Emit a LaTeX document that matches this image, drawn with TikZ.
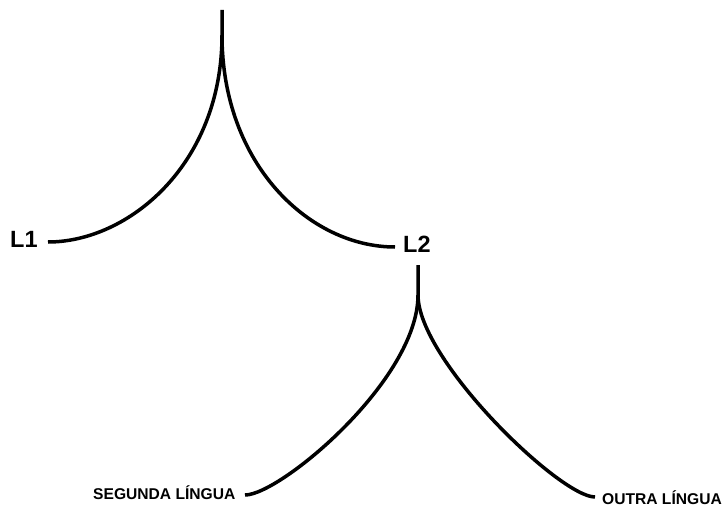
\documentclass[tikz,border=0pt]{standalone}
\usepackage{fontspec}
\setmainfont{Liberation Sans}
\begin{document}
\begin{tikzpicture}[x=1pt,y=-1pt,
  bigtxt/.style={anchor=base west,inner sep=0pt,font=\bfseries\fontsize{23.5}{28}\selectfont},
  smalltxt/.style={anchor=base west,inner sep=0pt,font=\bfseries\fontsize{15.6}{18}\selectfont},
  branch/.style={line width=3.5pt,line join=round}]
\useasboundingbox (0,0) rectangle (727,508);
% labels
\node[bigtxt] (L1) at (10,247) {L1};
\node[bigtxt] (L2) at (403,252) {L2};
\node[smalltxt] (SL) at (93,499) {SEGUNDA LÍNGUA};
\node[smalltxt] (OL) at (602,504) {OUTRA LÍNGUA};
% top tree
\coordinate (top1) at (222,10);
\coordinate (stem1) at (222,35);
\coordinate (l1end) at (48,242);
\coordinate (l2end) at (395,247);
\draw[branch] (top1) -- (stem1) .. controls (222,165) and (128,242) .. (l1end);
\draw[branch] (stem1) .. controls (222,165) and (310,247) .. (l2end);
% bottom tree
\coordinate (top2) at (418,265);
\coordinate (stem2) at (418,295);
\coordinate (slend) at (245,495);
\coordinate (olend) at (595,497);
\draw[branch] (top2) -- (stem2) .. controls (418,380) and (280,495) .. (slend);
\draw[branch] (stem2) .. controls (418,360) and (560,497) .. (olend);
\end{tikzpicture}
\end{document}
